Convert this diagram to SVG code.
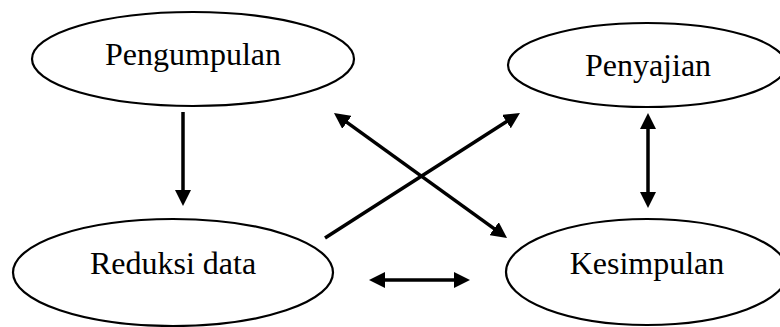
<svg xmlns="http://www.w3.org/2000/svg" width="780" height="327" viewBox="0 0 780 327">
<style>
.node ellipse{fill:#fff;stroke:#000;stroke-width:2.2}
.node text{font-family:"Liberation Serif","Times New Roman",serif;font-size:32px;fill:#000;text-anchor:middle}
.conn line{stroke:#000;stroke-width:3.5;fill:none}
</style>
<defs>
<marker id="ah" viewBox="0 0 16 16" refX="3" refY="8" markerWidth="16" markerHeight="16" markerUnits="userSpaceOnUse" orient="auto-start-reverse">
<path d="M0,0 L16,8 L0,16 Z" fill="#000"/>
</marker>
</defs>
<rect width="780" height="327" fill="#fff"/>
<g id="pengumpulan" class="node">
<ellipse cx="193" cy="59" rx="161" ry="47"/>
<text x="193" y="65">Pengumpulan</text>
</g>
<g id="penyajian" class="node">
<ellipse cx="647" cy="65" rx="139" ry="42"/>
<text x="648" y="76">Penyajian</text>
</g>
<g id="reduksi" class="node">
<ellipse cx="173" cy="272.5" rx="160" ry="53.5"/>
<text x="173" y="274">Reduksi data</text>
</g>
<g id="kesimpulan" class="node">
<ellipse cx="647" cy="272" rx="141" ry="53"/>
<text x="647" y="274">Kesimpulan</text>
</g>
<g id="connectors" class="conn">
<line x1="183" y1="112" x2="183" y2="193" marker-end="url(#ah)"/>
<line x1="344.5" y1="120.6" x2="496.5" y2="230.4" marker-start="url(#ah)" marker-end="url(#ah)"/>
<line x1="325" y1="238" x2="509" y2="120" marker-end="url(#ah)"/>
<line x1="648" y1="126" x2="648" y2="195" marker-start="url(#ah)" marker-end="url(#ah)"/>
<line x1="382" y1="280" x2="457" y2="280" marker-start="url(#ah)" marker-end="url(#ah)"/>
</g>
</svg>
